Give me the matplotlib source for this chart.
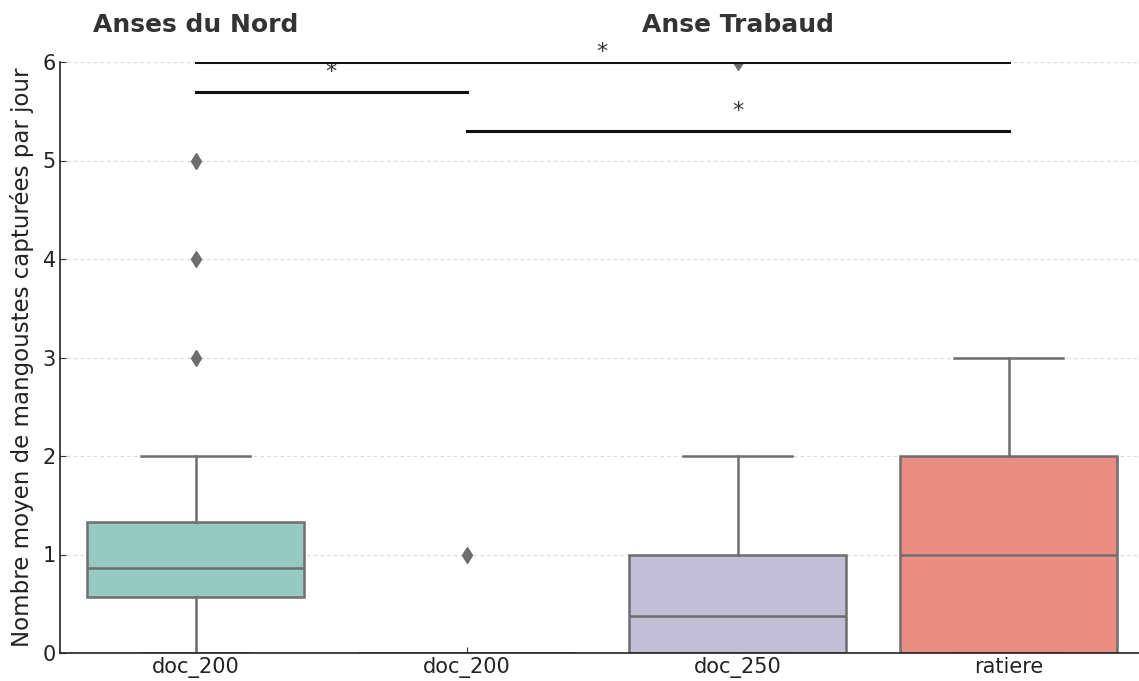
import colorsys

import numpy as np
import matplotlib.pyplot as plt
import matplotlib.colors as mcolors
import matplotlib.transforms as mtransforms

# ----------
#  DATA
# ----------
labels = ["doc_200", "doc_200", "doc_250", "ratiere"]
sites = ["Anses du Nord", "Anse Trabaud"]
site_centers = [0, 2]

whisker_low = [0, 0, 0, 0]
q1 = [0.57, 0, 0, 0]
median = [0.86, 0, 0.38, 1]
q3 = [1.33, 0, 1, 2]
whisker_high = [2, 0, 2, 3]
outliers = [[3, 4, 5], [1], [6], []]

# (left box, right box, bar height, star height)
comparisons = [(0, 1, 5.7, 5.9), (1, 3, 5.3, 5.5), (0, 3, 6.0, 6.1)]

palette = ["#8dd3c7", "#ffffb3", "#bebada", "#fb8072"]
edge_color = "#6d6d6d"


def desaturate(color, prop=0.75):
    r, g, b = mcolors.to_rgb(color)
    h, l, s = colorsys.rgb_to_hls(r, g, b)
    return colorsys.hls_to_rgb(h, l, s * prop)


fig = plt.figure(figsize=(11.39, 6.81), dpi=100)
ax = fig.add_axes([60 / 1139, 28 / 681, 1084 / 1139, 591 / 681])

stats = []
for i, lab in enumerate(labels):
    stats.append(dict(label=lab, whislo=whisker_low[i], q1=q1[i], med=median[i],
                      q3=q3[i], whishi=whisker_high[i], fliers=outliers[i]))

line_kw = dict(color=edge_color, linewidth=1.8)
bp = ax.bxp(stats, positions=range(len(labels)), widths=0.8, patch_artist=True,
            boxprops=dict(edgecolor=edge_color, linewidth=1.8),
            medianprops=line_kw, whiskerprops=line_kw, capprops=line_kw,
            flierprops=dict(marker="d", markerfacecolor=edge_color,
                            markeredgecolor=edge_color, markersize=8),
            capwidths=0.4)
for patch, col in zip(bp["boxes"], palette):
    patch.set_facecolor(desaturate(col))

# significance bars
for a, b, h, hs in comparisons:
    ax.plot([a, b], [h, h], color="#111111", linewidth=2.2, zorder=5)
    ax.text((a + b) / 2, hs, "*", ha="center", va="center", fontsize=16,
            color="#333333", clip_on=False)

ax.set_xlim(-0.5, 3.5)
ax.set_ylim(0, 6)
ax.set_yticks(range(7))
ax.set_xticks(range(len(labels)))
ax.set_xticklabels(labels)
ax.tick_params(axis="both", direction="in", labelsize=15, colors="#333333",
               length=4, pad=3)
ax.tick_params(axis="both", labelcolor="#222222")
ax.set_ylabel("Nombre moyen de mangoustes capturées par jour", fontsize=16.5,
              color="#222222", labelpad=6)

ax.yaxis.grid(True, linestyle=(0, (3, 3)), color="#d8d8d8", linewidth=0.8)
ax.set_axisbelow(True)
for side in ["top", "right"]:
    ax.spines[side].set_visible(False)
for side in ["left", "bottom"]:
    ax.spines[side].set_color("#222222")
    ax.spines[side].set_linewidth(1.2)

# site headers
trans = mtransforms.blended_transform_factory(ax.transData, ax.transAxes)
for name, xc in zip(sites, site_centers):
    ax.text(xc, 1.063, name, transform=trans, ha="center", va="center",
            fontsize=18, fontweight="bold", color="#333333")

fig.savefig("out.png", dpi=100)
